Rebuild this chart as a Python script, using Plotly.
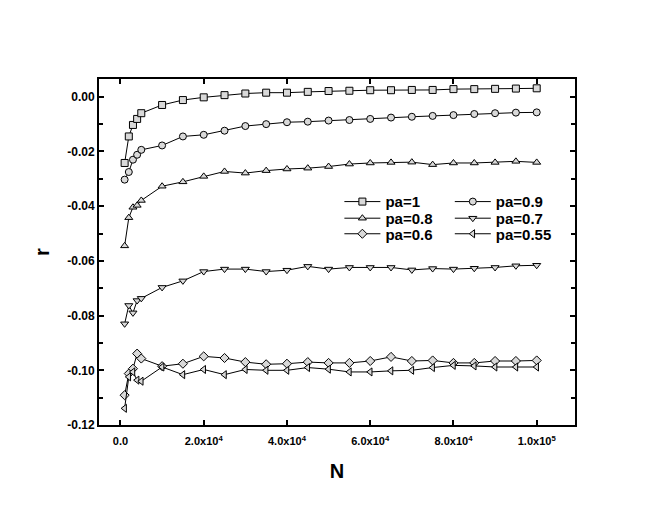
import plotly.graph_objects as go

N = [1000, 2000, 3000, 4000, 5000, 10000, 15000, 20000, 25000, 30000, 35000, 40000,
     45000, 50000, 55000, 60000, 65000, 70000, 75000, 80000, 85000, 90000, 95000, 100000]

r_pa1 = [-0.0242, -0.0145, -0.0103, -0.0081, -0.0060, -0.0030, -0.0012, -0.0002, 0.0006, 0.0012,
         0.0015, 0.0015, 0.0018, 0.0021, 0.0022, 0.0024, 0.0024, 0.0025, 0.0025, 0.0028,
         0.0028, 0.0029, 0.0030, 0.0031]
r_pa09 = [-0.0303, -0.0275, -0.0230, -0.0212, -0.0194, -0.0178, -0.0145, -0.0139, -0.0124, -0.0107,
          -0.0100, -0.0093, -0.0091, -0.0087, -0.0085, -0.0081, -0.0076, -0.0073, -0.0070, -0.0067,
          -0.0063, -0.0060, -0.0058, -0.0057]
r_pa08 = [-0.0545, -0.0442, -0.0404, -0.0397, -0.0379, -0.0327, -0.0311, -0.0291, -0.0273, -0.0279,
          -0.0270, -0.0264, -0.0261, -0.0255, -0.0246, -0.0242, -0.0240, -0.0239, -0.0248, -0.0242,
          -0.0242, -0.0240, -0.0236, -0.0240]
r_pa07 = [-0.0830, -0.0763, -0.0790, -0.0745, -0.0737, -0.0697, -0.0673, -0.0639, -0.0630, -0.0630,
          -0.0639, -0.0634, -0.0620, -0.0630, -0.0624, -0.0624, -0.0624, -0.0633, -0.0628, -0.0630,
          -0.0627, -0.0624, -0.0618, -0.0616]
r_pa06 = [-0.1091, -0.1012, -0.0994, -0.0939, -0.0957, -0.0985, -0.0976, -0.0949, -0.0955, -0.0970,
          -0.0978, -0.0976, -0.0970, -0.0973, -0.0973, -0.0966, -0.0951, -0.0966, -0.0964, -0.0973,
          -0.0973, -0.0966, -0.0966, -0.0964]
r_pa055 = [-0.1139, -0.1024, -0.1006, -0.1036, -0.1040, -0.0988, -0.1016, -0.0997, -0.1016, -0.0997,
           -0.1000, -0.1000, -0.0990, -0.0996, -0.1006, -0.1006, -0.1002, -0.1000, -0.0990, -0.0982,
           -0.0984, -0.0988, -0.0988, -0.0988]

labels = ["pa=1", "pa=0.9", "pa=0.8", "pa=0.7", "pa=0.6", "pa=0.55"]
series = [r_pa1, r_pa09, r_pa08, r_pa07, r_pa06, r_pa055]
symbols = ["square", "circle", "triangle-up", "triangle-down", "diamond", "triangle-left"]

x_tickvals = [0, 20000, 40000, 60000, 80000, 100000]
x_ticktext = ["0.0", "2.0x10<sup>4</sup>", "4.0x10<sup>4</sup>", "6.0x10<sup>4</sup>",
              "8.0x10<sup>4</sup>", "1.0x10<sup>5</sup>"]
y_tickvals = [0.00, -0.02, -0.04, -0.06, -0.08, -0.10, -0.12]
y_ticktext = ["0.00", "-0.02", "-0.04", "-0.06", "-0.08", "-0.10", "-0.12"]

FONT = "Liberation Sans, Arial, sans-serif"

# legend grid: 2 columns x 3 rows (paper coordinates of each entry)
leg_cols = [0.505, 0.737, 0.505, 0.737, 0.505, 0.737]
leg_rows = [0.645, 0.645, 0.597, 0.597, 0.552, 0.552]

fig = go.Figure()
layout_legends = {}
for i, (lab, ys, sym) in enumerate(zip(labels, series, symbols)):
    lid = "legend" if i == 0 else f"legend{i + 1}"
    fig.add_trace(go.Scatter(
        x=N, y=ys, name=lab, mode="lines+markers", legend=lid,
        line=dict(color="black", width=1),
        marker=dict(symbol=sym, size=7, color="#d9d9d9",
                    line=dict(color="black", width=1)),
    ))
    layout_legends[lid] = dict(
        x=leg_cols[i], y=leg_rows[i], xanchor="left", yanchor="middle",
        bgcolor="rgba(0,0,0,0)", borderwidth=0, itemwidth=36,
        font=dict(family=FONT, size=15, color="black", weight="bold"),
    )

axis_common = dict(
    showline=True, linecolor="black", linewidth=2, mirror="allticks",
    ticks="inside", ticklen=5, tickwidth=2, tickcolor="black",
    showgrid=False, zeroline=False,
)

fig.update_xaxes(
    range=[-5160, 109200], tickmode="array", tickvals=x_tickvals, ticktext=x_ticktext,
    tickfont=dict(family=FONT, size=11, color="black", weight="bold"),
    ticklabelstandoff=5,
    title=dict(text="N", font=dict(family=FONT, size=20, color="black", weight="bold"), standoff=18),
    **axis_common,
)
fig.update_yaxes(
    range=[-0.12, 0.0065], tickmode="array", tickvals=y_tickvals, ticktext=y_ticktext,
    tickfont=dict(family=FONT, size=12, color="black", weight="bold"),
    minor=dict(ticks="inside", ticklen=4, tickwidth=2, tickcolor="black", dtick=0.01, tick0=0),
    title=dict(text="r", font=dict(family=FONT, size=20, color="black", weight="bold"), standoff=12),
    **axis_common,
)

fig.update_layout(
    width=646, height=519,
    margin=dict(l=90.5, r=79, t=71, b=102),
    paper_bgcolor="white", plot_bgcolor="white",
    showlegend=True,
    **layout_legends,
)

fig.write_html("out.html")
